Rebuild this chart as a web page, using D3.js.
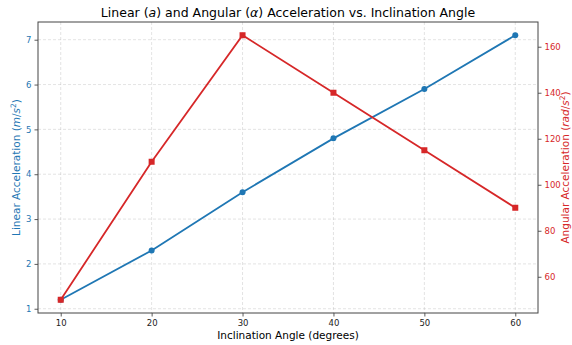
<!DOCTYPE html>
<html>
<head>
<meta charset="utf-8">
<script src="https://cdn.jsdelivr.net/npm/d3@7"></script>
<style>
  body { margin: 0; background: #fff; }
  svg text { font-family: "DejaVu Sans", sans-serif; }
</style>
</head>
<body>
<svg id="chart"></svg>
<script>
/* data */
const angles = [10, 20, 30, 40, 50, 60];
const linearAcc = [1.2, 2.3, 3.6, 4.8, 5.9, 7.1];
const angularAcc = [50, 110, 165, 140, 115, 90];
const xTicks = [10, 20, 30, 40, 50, 60];
const leftTicks = [1, 2, 3, 4, 5, 6, 7];
const rightTicks = [60, 80, 100, 120, 140, 160];

const width = 572, height = 345;
const margin = {left: 38, right: 34, top: 22, bottom: 32};
const blue = "#1f77b4", red = "#d62728";

const svg = d3.select("#chart").attr("width", width).attr("height", height);

const x = d3.scaleLinear().domain([7.5, 62.5]).range([margin.left, width - margin.right]);
const yL = d3.scaleLinear().domain([0.905, 7.395]).range([height - margin.bottom, margin.top]);
const yR = d3.scaleLinear().domain([44.25, 170.75]).range([height - margin.bottom, margin.top]);

/* grid */
const grid = svg.append("g").attr("class", "grid");
grid.selectAll(".vg").data(xTicks).join("line")
  .attr("x1", d => x(d)).attr("x2", d => x(d))
  .attr("y1", margin.top).attr("y2", height - margin.bottom);
grid.selectAll(".hg").data(leftTicks).join("line")
  .attr("x1", margin.left).attr("x2", width - margin.right)
  .attr("y1", d => yL(d)).attr("y2", d => yL(d));
grid.selectAll("line")
  .attr("stroke", "#b0b0b0").attr("stroke-opacity", 0.45)
  .attr("stroke-width", 0.8).attr("stroke-dasharray", "3,2");

/* axes */
const xAxis = svg.append("g")
  .attr("transform", `translate(0,${height - margin.bottom})`)
  .call(d3.axisBottom(x).tickValues(xTicks).tickFormat(d3.format("d")).tickSize(3.5).tickPadding(3));
const lAxis = svg.append("g")
  .attr("transform", `translate(${margin.left},0)`)
  .call(d3.axisLeft(yL).tickValues(leftTicks).tickFormat(d3.format("d")).tickSize(3.5).tickPadding(3));
const rAxis = svg.append("g")
  .attr("transform", `translate(${width - margin.right},0)`)
  .call(d3.axisRight(yR).tickValues(rightTicks).tickFormat(d3.format("d")).tickSize(3.5).tickPadding(3));

[xAxis, lAxis, rAxis].forEach(a => {
  a.select(".domain").remove();
  a.selectAll("text").attr("font-size", 8.5);
  a.selectAll("line").attr("stroke", "#333").attr("stroke-width", 0.8);
});
xAxis.selectAll("text").attr("fill", "#222");
lAxis.selectAll("text").attr("fill", blue);
rAxis.selectAll("text").attr("fill", red);

/* frame */
svg.append("rect")
  .attr("x", margin.left).attr("y", margin.top)
  .attr("width", width - margin.left - margin.right)
  .attr("height", height - margin.top - margin.bottom)
  .attr("fill", "none").attr("stroke", "#444").attr("stroke-width", 1);

/* linear acceleration line */
const linePts = angles.map((a, i) => [a, linearAcc[i]]);
svg.append("path")
  .datum(linePts)
  .attr("fill", "none").attr("stroke", blue).attr("stroke-width", 1.8)
  .attr("d", d3.line().x(d => x(d[0])).y(d => yL(d[1])));
svg.selectAll(".dotL").data(linePts).join("circle")
  .attr("cx", d => x(d[0])).attr("cy", d => yL(d[1]))
  .attr("r", 3).attr("fill", blue);

/* angular acceleration line */
const angPts = angles.map((a, i) => [a, angularAcc[i]]);
svg.append("path")
  .datum(angPts)
  .attr("fill", "none").attr("stroke", red).attr("stroke-width", 1.8)
  .attr("d", d3.line().x(d => x(d[0])).y(d => yR(d[1])));
svg.selectAll(".sqR").data(angPts).join("rect")
  .attr("x", d => x(d[0]) - 3).attr("y", d => yR(d[1]) - 3)
  .attr("width", 6).attr("height", 6).attr("fill", red);

/* labels */
svg.append("text")
  .attr("x", (margin.left + width - margin.right) / 2).attr("y", 17)
  .attr("text-anchor", "middle").attr("font-size", 12.5).attr("fill", "#000")
  .html('Linear (<tspan font-style="italic">a</tspan>) and Angular (<tspan font-style="italic">α</tspan>) Acceleration vs. Inclination Angle');

svg.append("text")
  .attr("x", (margin.left + width - margin.right) / 2).attr("y", 339)
  .attr("text-anchor", "middle").attr("font-size", 10.5).attr("fill", "#000")
  .text("Inclination Angle (degrees)");

svg.append("text")
  .attr("transform", `translate(20,${(margin.top + height - margin.bottom) / 2}) rotate(-90)`)
  .attr("text-anchor", "middle").attr("font-size", 10.5).attr("fill", blue)
  .html('Linear Acceleration (<tspan font-style="italic">m</tspan>/<tspan font-style="italic">s</tspan><tspan baseline-shift="super" font-size="7.5">2</tspan>)');

svg.append("text")
  .attr("transform", `translate(569,${(margin.top + height - margin.bottom) / 2}) rotate(-90)`)
  .attr("text-anchor", "middle").attr("font-size", 10.5).attr("fill", red)
  .html('Angular Acceleration (<tspan font-style="italic">rad</tspan>/<tspan font-style="italic">s</tspan><tspan baseline-shift="super" font-size="7.5">2</tspan>)');
</script>
</body>
</html>
